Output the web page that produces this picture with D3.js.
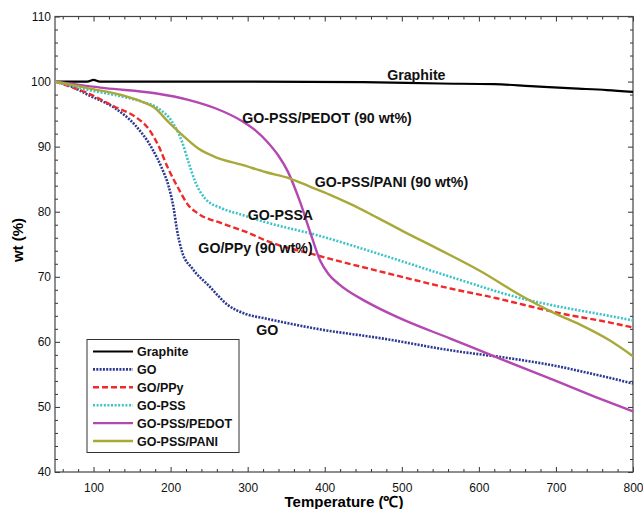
<!DOCTYPE html>
<html>
<head>
<meta charset="utf-8">
<script src="https://cdn.jsdelivr.net/npm/d3@7"></script>
<style>
  body { margin: 0; background: #fff; }
  svg { font-family: "Liberation Sans", Arial, sans-serif; }
</style>
</head>
<body>
<svg id="tga" width="643" height="509"></svg>
<script>
// TGA curves, [temperature, wt%]
const graphite = [[50,100],[92,100],[100,100.25],[108,100],[300,100],[450,99.9],[550,99.7],[620,99.6],[667,99.3],[722,98.95],[766,98.7],[800,98.4]]
const go = [[50,100],[70,99.3],[94,97.9],[128,95.9],[154,93.3],[176,89.7],[189,86.6],[197,84.1],[204,80.5],[208,77.4],[215,73.8],[228,71.3],[249,68.7],[275,65.6],[297,64.3],[323,63.6],[390,62.0],[476,60.5],[563,58.7],[650,57.3],[700,56.3],[750,55.0],[800,53.6]]
const goPpy = [[50,100],[70,99.2],[89,98.4],[128,96.1],[154,94.6],[171,92.8],[184,90.2],[197,86.6],[210,83.6],[223,81.0],[236,79.7],[267,78.2],[304,76.6],[323,75.6],[390,73.3],[476,70.7],[563,68.2],[623,66.7],[658,65.7],[709,64.3],[760,63.2],[800,62.2]]
const goPss = [[50,100],[94,98.7],[137,97.7],[163,96.9],[184,95.9],[202,93.8],[215,90.7],[223,87.7],[232,84.6],[245,82.0],[267,80.5],[293,79.5],[323,78.4],[390,76.4],[476,73.3],[563,70.0],[658,66.6],[709,65.3],[760,64.2],[800,63.3]]
const goPssPedot = [[50,100],[115,99.0],[180,98.2],[223,97.2],[258,95.9],[293,93.9],[310,92.5],[325,90.8],[340,88.6],[352,86.2],[368,81.5],[381,76.9],[394,72.5],[405,70.4],[418,68.9],[455,66.1],[498,63.6],[563,60.5],[632,57.2],[700,54.0],[750,51.6],[800,49.3]]
const goPssPani = [[50,100],[94,98.95],[137,97.9],[163,96.9],[180,95.9],[197,93.8],[215,91.8],[236,89.7],[258,88.4],[293,87.2],[323,86.1],[355,85.1],[380,83.9],[407,82.6],[433,81.2],[460,79.6],[500,77.1],[550,74.1],[600,71.0],[658,66.9],[700,64.3],[732,62.6],[770,60.2],[800,57.8]]

const xTicks = [100, 200, 300, 400, 500, 600, 700, 800]
const yTicks = [40, 50, 60, 70, 80, 90, 100, 110]

const series = [
  { name: "Graphite",     data: graphite,   color: "#000000", dash: null,  w: 2.2 },
  { name: "GO",           data: go,         color: "#2b3990", dash: "2,1.3", w: 2.6 },
  { name: "GO/PPy",       data: goPpy,      color: "#ee2a2a", dash: "6,3", w: 2.4 },
  { name: "GO-PSS",       data: goPss,      color: "#3ec3c8", dash: "2,1.6", w: 2.6 },
  { name: "GO-PSS/PEDOT", data: goPssPedot, color: "#b348b0", dash: null,  w: 2.4 },
  { name: "GO-PSS/PANI",  data: goPssPani,  color: "#a9a93a", dash: null,  w: 2.4 }
]

// labels written next to the curves
const notes = [
  { text: "Graphite",              t: 481, v: 100.25 },
  { text: "GO-PSS/PEDOT (90 wt%)", t: 293, v: 93.7 },
  { text: "GO-PSS/PANI (90 wt%)",  t: 387, v: 83.8 },
  { text: "GO-PSSA",               t: 300, v: 78.8 },
  { text: "GO/PPy (90 wt%)",       t: 236, v: 73.6 },
  { text: "GO",                    t: 311, v: 61.0 }
]

const svg = d3.select('#tga')
const mLeft = 55, mRight = 633, mTop = 16.5, mBottom = 472

const x = d3.scaleLinear().domain([50, 800]).range([mLeft, mRight])
const y = d3.scaleLinear().domain([40, 110]).range([mBottom, mTop])

const xMinor = d3.range(60, 800, 20).filter(d => d % 100 != 0)
const yMinor = d3.range(42, 110, 2).filter(d => d % 10 != 0)

function styleAxis(g) {
  g.select(".domain").remove()
  g.selectAll("line").attr("stroke", "#333").attr("stroke-width", 1)
  g.selectAll("text").attr("fill", "#111").style("font-size", "12px")
}

// bottom
svg.append("g").attr("transform", `translate(0,${mBottom})`)
  .call(d3.axisBottom(x).tickValues(xTicks).tickSize(-5).tickPadding(11))
  .call(styleAxis)
svg.append("g").attr("transform", `translate(0,${mBottom})`)
  .call(d3.axisBottom(x).tickValues(xMinor).tickSize(-3).tickFormat(""))
  .call(styleAxis)
// top
svg.append("g").attr("transform", `translate(0,${mTop})`)
  .call(d3.axisTop(x).tickValues(xTicks).tickSize(-5).tickFormat(""))
  .call(styleAxis)
svg.append("g").attr("transform", `translate(0,${mTop})`)
  .call(d3.axisTop(x).tickValues(xMinor).tickSize(-3).tickFormat(""))
  .call(styleAxis)
// left
svg.append("g").attr("transform", `translate(${mLeft},0)`)
  .call(d3.axisLeft(y).tickValues(yTicks).tickSize(-5).tickPadding(4))
  .call(styleAxis)
svg.append("g").attr("transform", `translate(${mLeft},0)`)
  .call(d3.axisLeft(y).tickValues(yMinor).tickSize(-3).tickFormat(""))
  .call(styleAxis)
// right
svg.append("g").attr("transform", `translate(${mRight},0)`)
  .call(d3.axisRight(y).tickValues(yTicks).tickSize(-5).tickFormat(""))
  .call(styleAxis)
svg.append("g").attr("transform", `translate(${mRight},0)`)
  .call(d3.axisRight(y).tickValues(yMinor).tickSize(-3).tickFormat(""))
  .call(styleAxis)

svg.append("rect")
  .attr("x", mLeft).attr("y", mTop)
  .attr("width", mRight - mLeft).attr("height", mBottom - mTop)
  .attr("fill", "none").attr("stroke", "#444").attr("stroke-width", 1.2)

const line = d3.line()
  .x(d => x(d[0]))
  .y(d => y(d[1]))
  .curve(d3.curveMonotoneX)

svg.append("g").selectAll("path")
  .data(series)
  .join("path")
  .attr("d", d => line(d.data))
  .attr("fill", "none")
  .attr("stroke", d => d.color)
  .attr("stroke-width", d => d.w)
  .attr("stroke-dasharray", d => d.dash)

svg.append("g").selectAll("text")
  .data(notes)
  .join("text")
  .attr("x", d => x(d.t))
  .attr("y", d => y(d.v))
  .text(d => d.text)
  .style("font-size", "14.2px")
  .style("font-weight", "bold")
  .attr("fill", "#111")

// legend
const lg = svg.append("g").attr("transform", "translate(87,339.5)")
lg.append("rect")
  .attr("width", 152).attr("height", 113)
  .attr("fill", "#fff").attr("stroke", "#333").attr("stroke-width", 1)
const rows = lg.selectAll("g")
  .data(series)
  .join("g")
  .attr("transform", (d, i) => `translate(0,${12 + i * 17.9})`)
rows.append("line")
  .attr("x1", 6).attr("x2", 46)
  .attr("stroke", d => d.color)
  .attr("stroke-width", d => d.w)
  .attr("stroke-dasharray", d => d.dash)
rows.append("text")
  .attr("x", 50).attr("dy", "0.36em")
  .text(d => d.name)
  .style("font-size", "12.5px")
  .style("font-weight", "bold")
  .attr("fill", "#111")

svg.append("text")
  .attr("x", (mLeft + mRight) / 2).attr("y", 507)
  .attr("text-anchor", "middle")
  .style("font-size", "15px").style("font-weight", "bold")
  .text("Temperature (℃)")

svg.append("text")
  .attr("transform", "translate(23,240) rotate(-90)")
  .attr("text-anchor", "middle")
  .style("font-size", "15px").style("font-weight", "bold")
  .text("wt (%)")
</script>
</body>
</html>
